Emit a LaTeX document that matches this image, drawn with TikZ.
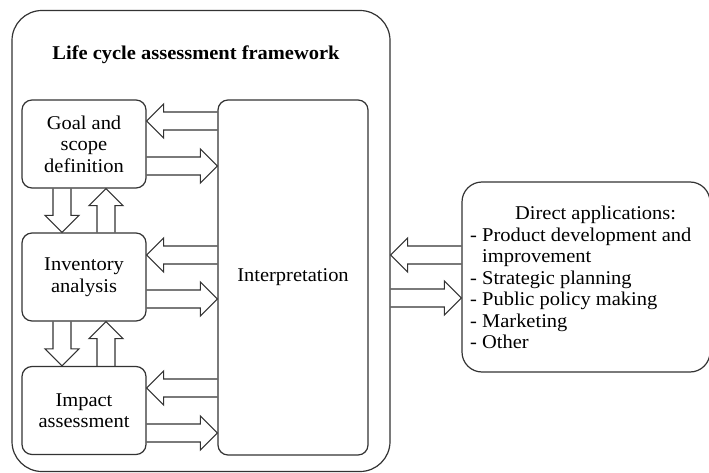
\documentclass[tikz,border=0pt]{standalone}
\usepackage{fontspec}
\setmainfont{Liberation Serif}[FakeStretch=1.05]
\usetikzlibrary{calc}

\tikzset{
  frm/.style={draw=black!80, line width=1.2pt, inner sep=0pt},
  stagebox/.style={frm, rounded corners=10pt, minimum width=124pt, minimum height=88pt,
    align=center, font=\fontsize{19.5}{21.5}\selectfont},
  hollow/.style={draw=black!80, line width=1.1pt, line join=miter},
  txt/.style={inner sep=0pt, font=\fontsize{19.5}{21.5}\selectfont},
}

% hollow block arrow from #1 to #2 (shaft 18pt wide, head 34pt wide, 17pt long)
\newcommand\hollowarrow[2]{%
  \path ($(#2)!17pt!(#1)$) coordinate (ah);
  \draw[hollow] ($(#1)!9pt!90:(#2)$) -- ($(ah)!9pt!90:(#2)$) -- ($(ah)!17pt!90:(#2)$)
    -- (#2) -- ($(ah)!17pt!-90:(#2)$) -- ($(ah)!9pt!-90:(#2)$) -- ($(#1)!9pt!-90:(#2)$);%
}

\begin{document}
\begin{tikzpicture}[x=1pt, y=-1pt]
\useasboundingbox (0,0) rectangle (709,473);

% framework frame
\node[frm, rounded corners=30pt, minimum width=378pt, minimum height=461pt] (frame) at (201,241) {};
\node[txt, font=\fontsize{19.5}{21.5}\selectfont\bfseries] (title) at (196,55) {Life cycle assessment framework};

% stages
\node[stagebox] (goal) at (84,144) {Goal and\\scope\\definition};
\node[stagebox] (inv) at (84,277) {Inventory\\analysis};
\node[stagebox] (imp) at (84,410.5) {Impact\\assessment};
\node[frm, rounded corners=10pt, minimum width=150pt, minimum height=355pt] (interp) at (293,277.5) {};
\node[txt] (interptxt) at (293,277) {Interpretation};

% applications
\node[frm, rounded corners=20pt, minimum width=248pt, minimum height=190pt] (apps) at (586,277) {};
\node[txt, anchor=west] (appstxt) at (470,280) {%
  \renewcommand\arraystretch{1}\setlength\baselineskip{21.5pt}%
  \begin{tabular}{@{}l@{}}
  \hspace*{45pt}Direct applications:\\
  - Product development and\\
  \hbox to 12pt{}improvement\\
  - Strategic planning\\
  - Public policy making\\
  - Marketing\\
  - Other
  \end{tabular}};

% arrow end points
\coordinate (g1s) at (interp.west |- 0,121);  \coordinate (g1e) at (goal.east |- 0,121);
\coordinate (g2s) at (goal.east |- 0,166);    \coordinate (g2e) at (interp.west |- 0,166);
\coordinate (i1s) at (interp.west |- 0,255);  \coordinate (i1e) at (inv.east |- 0,255);
\coordinate (i2s) at (inv.east |- 0,299);     \coordinate (i2e) at (interp.west |- 0,299);
\coordinate (m1s) at (interp.west |- 0,388);  \coordinate (m1e) at (imp.east |- 0,388);
\coordinate (m2s) at (imp.east |- 0,433);     \coordinate (m2e) at (interp.west |- 0,433);

\coordinate (d1s) at (goal.south -| 62,0);    \coordinate (d1e) at (inv.north -| 62,0);
\coordinate (u1s) at (inv.north -| 106,0);    \coordinate (u1e) at (goal.south -| 106,0);
\coordinate (d2s) at (inv.south -| 62,0);     \coordinate (d2e) at (imp.north -| 62,0);
\coordinate (u2s) at (imp.north -| 106,0);    \coordinate (u2e) at (inv.south -| 106,0);

\coordinate (x1s) at (apps.west |- 0,255);    \coordinate (x1e) at (frame.east |- 0,255);
\coordinate (x2s) at (frame.east |- 0,298);   \coordinate (x2e) at (apps.west |- 0,298);

% arrows
\hollowarrow{g1s}{g1e}
\hollowarrow{g2s}{g2e}
\hollowarrow{i1s}{i1e}
\hollowarrow{i2s}{i2e}
\hollowarrow{m1s}{m1e}
\hollowarrow{m2s}{m2e}
\hollowarrow{d1s}{d1e}
\hollowarrow{u1s}{u1e}
\hollowarrow{d2s}{d2e}
\hollowarrow{u2s}{u2e}
\hollowarrow{x1s}{x1e}
\hollowarrow{x2s}{x2e}
\end{tikzpicture}
\end{document}
